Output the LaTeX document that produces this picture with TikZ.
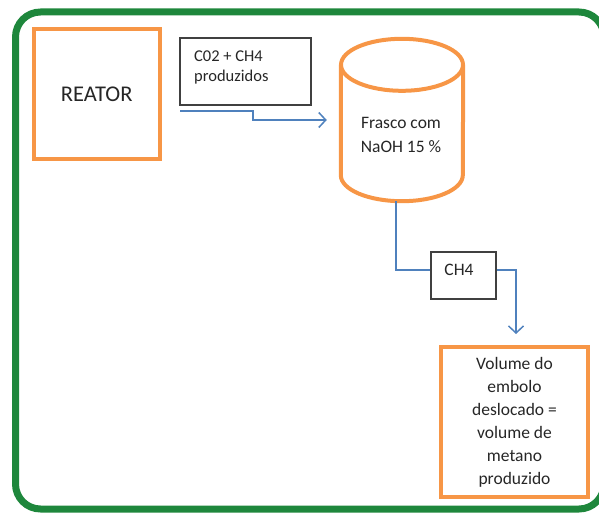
\documentclass[tikz,border=0pt]{standalone}
\usepackage{fontspec}
\setmainfont{Carlito}
\usetikzlibrary{arrows.meta,calc}
\definecolor{frgreen}{RGB}{30,135,60}
\definecolor{orng}{RGB}{247,150,70}
\definecolor{lblue}{RGB}{79,129,189}
\definecolor{dgray}{RGB}{64,64,64}
\begin{document}
\begin{tikzpicture}[x=1pt,y=-1pt,
  orangebox/.style={draw=orng, line width=4pt, inner sep=0pt},
  graybox/.style={draw=dgray, line width=1.8pt, inner sep=0pt},
  wire/.style={draw=lblue, line width=1.5pt},
  conn/.style={wire, -{Straight Barb[length=7pt,width=15pt]}},
  txt/.style={text=black!85, inner sep=0pt}]
\useasboundingbox (0,0) rectangle (599,513);
% frame
\draw[frgreen, line width=7pt, rounded corners=25pt] (15.5,12) rectangle (604,509);
% reactor
\node[orangebox, txt, minimum width=125.5, minimum height=130,
      font=\fontsize{22.5}{26}\selectfont] (reator) at (96.75,94) {REATOR};
% CO2 box
\node[graybox, minimum width=131, minimum height=67] (co2) at (245.5,71.5) {};
\node[txt, anchor=north west, align=left, font=\fontsize{16.5}{20}\selectfont]
     (co2t) at (194,51) {C02 + CH4\\produzidos};
% flask (cylinder)
\node[minimum width=122, minimum height=162, inner sep=0pt] (fr) at (402,120) {};
\draw[orng, line width=4pt] ($(fr.north)+(0,26)$) ellipse [x radius=61pt, y radius=26pt];
\draw[orng, line width=4pt] ($(fr.north west)+(0,26)$) -- ($(fr.south west)+(0,-26)$)
     arc[start angle=180, end angle=360, x radius=61pt, y radius=26pt]
     -- ($(fr.north east)+(0,26)$);
\node[txt, align=center, font=\fontsize{17.5}{24}\selectfont] (frt) at (401,135)
     {Frasco com\\NaOH 15 \%};
% CH4 box
\node[graybox, minimum width=65, minimum height=47] (ch4) at (463.5,275.5) {};
\node[txt, font=\fontsize{17.5}{19}\selectfont] (ch4t) at (459,270) {CH4};
% volume box
\node[orangebox, txt, minimum width=147, minimum height=150, align=center,
      font=\fontsize{17.5}{23}\selectfont] (vol) at (514.5,422)
     {Volume do\\embolo\\deslocado =\\volume de\\metano\\produzido};
% connectors
\coordinate (a1) at (180,111);
\coordinate (a2) at ($(fr.west)+(-14,0)$);
\draw[conn] (a1) -- ++(73,0) |- (a2);
\draw[wire] ($(fr.south)+(-6,0)$) |- ($(ch4.west)+(0,-5.5)$);
\coordinate (a3) at ($(vol.north)+(1.5,-11)$);
\draw[conn] ($(ch4.east)+(0,-5.5)$) -| (a3);
\end{tikzpicture}
\end{document}
